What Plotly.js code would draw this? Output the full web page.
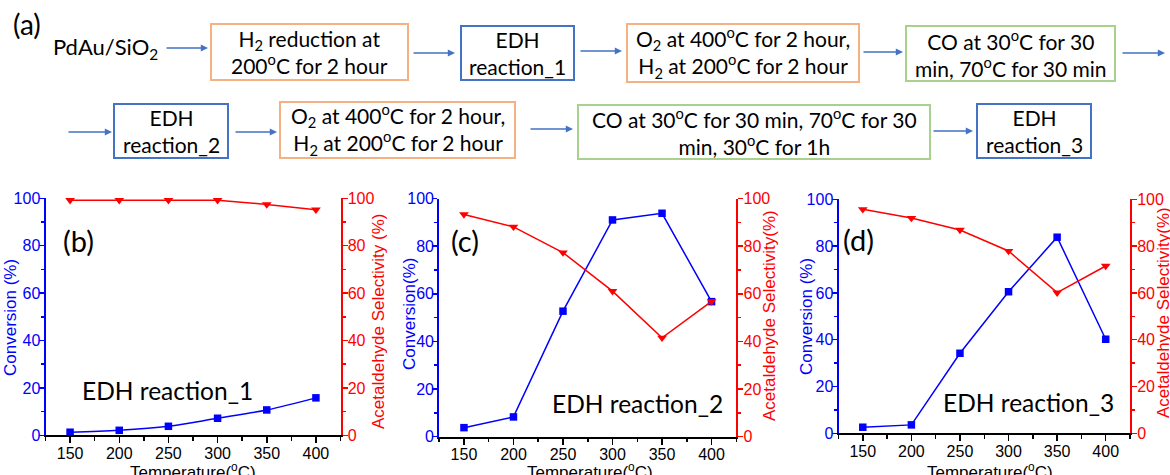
<!DOCTYPE html>
<html>
<head>
<meta charset="utf-8">
<script src="https://cdn.plot.ly/plotly-3.0.1.min.js"></script>
<style>html,body{margin:0;padding:0;background:#fff;}#chart{width:1170px;height:475px;}</style>
</head>
<body>
<div id="chart"></div>
<script>
// ---------------- data ----------------
const temperature = [150, 200, 250, 300, 350, 400];
const conversionB = [1.3, 2.1, 3.8, 7.2, 10.7, 15.8];
const selectivityB = [99.2, 99.2, 99.2, 99.2, 97.4, 95.2];
const conversionC = [3.8, 8.3, 52.7, 91.0, 93.8, 56.7];
const selectivityC = [93.3, 88.1, 77.3, 61.1, 41.5, 56.8];
const conversionD = [2.6, 3.6, 34.2, 60.5, 83.8, 40.2];
const selectivityD = [95.7, 92.0, 86.9, 77.9, 60.1, 71.5];
const panelLabels = ['(b)', '(c)', '(d)'];
const reactionLabels = ['EDH reaction_1', 'EDH reaction_2', 'EDH reaction_3'];
const leftTitles = ['Conversion (%)', 'Conversion(%)', 'Conversion (%)'];
const rightTitles = ['Acetaldehyde Selectivity (%)', 'Acetaldehyde Selectivity(%)', 'Acetaldehyde Selectivity(%)'];
const xTitle = 'Temperature(<sup>o</sup>C)';
const flowSteps = [
  'H<sub>2</sub> reduction at<br>200<sup>o</sup>C for 2 hour',
  'EDH<br>reaction_1',
  'O<sub>2</sub> at 400<sup>o</sup>C for 2 hour,<br>H<sub>2</sub> at 200<sup>o</sup>C for 2 hour',
  'CO at 30<sup>o</sup>C for 30<br>min, 70<sup>o</sup>C for 30 min',
  'EDH<br>reaction_2',
  'O<sub>2</sub> at 400<sup>o</sup>C for 2 hour,<br>H<sub>2</sub> at 200<sup>o</sup>C for 2 hour',
  'CO at 30<sup>o</sup>C for 30 min, 70<sup>o</sup>C for 30<br>min, 30<sup>o</sup>C for 1h',
  'EDH<br>reaction_3'
];
const startLabel = 'PdAu/SiO<sub>2</sub>';

// ---------------- layout helpers ----------------
const W = 1170, H = 475;
const px = x => x / W;
const py = y => 1 - y / H;
const BLUE = '#0000ff', RED = '#ff0000';
const TICKFONT = 'Liberation Sans, Arial, sans-serif';
const FLOWFONT = 'Lato, Noto Sans, sans-serif';
const kindColor = {o: '#f4b183', b: '#4472c4', g: '#a9d18e'};

// box geometry [x0, y0, x1, y1, kind] in pixels
const boxGeom = [
  [211, 24, 408, 80, 'o'],
  [461, 26, 574, 80, 'b'],
  [627, 24, 859, 82, 'o'],
  [906, 26, 1115, 81, 'g'],
  [114, 104, 228, 158, 'b'],
  [280, 102, 515, 158, 'o'],
  [578, 105, 930, 159, 'g'],
  [977, 104, 1091, 158, 'b']
];
// arrows [tailX, headX, y]
const arrowGeom = [
  [165, 208, 48], [412, 455, 53], [579, 622, 51], [862, 903, 52], [1121, 1165, 53],
  [67, 112, 132], [234, 277, 132], [529, 573, 129], [932, 973, 131]
];
// plot panels: domains in pixels [left, right, top, bottom]
const panels = [
  [45.5, 340.5, 198.3, 435.3],
  [439.2, 736.3, 198.5, 436.7],
  [838.5, 1130, 199.3, 433.3]
];
const panelLabelPos = [[78.5, 240], [464.5, 240], [858.5, 239]];
const reactionPos = [[167, 390], [637, 403.5], [1028.5, 402.5]];
const leftTitlePos = [[10, 318], [409, 314], [806, 317]];
const rightTitlePos = [[378, 322], [769, 316], [1163, 313]];
const xTitlePos = [193, 590, 990];

const convSeries = [conversionB, conversionC, conversionD];
const selSeries = [selectivityB, selectivityC, selectivityD];

const traces = [];
const layout = {
  width: W, height: H,
  margin: {l: 0, r: 0, t: 0, b: 0},
  paper_bgcolor: '#fff', plot_bgcolor: 'rgba(0,0,0,0)',
  showlegend: false,
  shapes: [], annotations: []
};

panels.forEach((p, i) => {
  const xn = i === 0 ? '' : String(i + 1);
  const yl = String(2 * i + 1), yr = String(2 * i + 2);
  const yln = yl === '1' ? '' : yl;
  layout['xaxis' + xn] = {
    domain: [px(p[0]), px(p[1])], range: [125, 425], anchor: 'y' + yln,
    tick0: 150, dtick: 50, ticks: 'outside', ticklen: 6, tickwidth: 1.5, tickcolor: '#000',
    minor: {tick0: 125, dtick: 25, ticks: 'outside', ticklen: 3.5, tickwidth: 1.5, tickcolor: '#000'},
    showline: true, linecolor: '#000', linewidth: 2, showgrid: false, zeroline: false,
    ticklabelstandoff: -4,
    tickfont: {family: TICKFONT, size: 16, color: '#000'}, fixedrange: true
  };
  layout['yaxis' + yln] = {
    domain: [py(p[3]), py(p[2])], range: [0, 100], anchor: 'x' + xn,
    tick0: 0, dtick: 20, ticks: 'outside', ticklen: 5, tickwidth: 1.5, tickcolor: BLUE,
    minor: {dtick: 10, ticks: 'outside', ticklen: 3, tickwidth: 1.5, tickcolor: BLUE},
    showline: true, linecolor: BLUE, linewidth: 2, showgrid: false, zeroline: false,
    ticklabelstandoff: -5,
    tickfont: {family: TICKFONT, size: 16, color: BLUE}, fixedrange: true
  };
  layout['yaxis' + yr] = {
    overlaying: 'y' + yln, side: 'right', range: [0, 100], anchor: 'x' + xn,
    tick0: 0, dtick: 20, ticks: 'outside', ticklen: 5, tickwidth: 1.5, tickcolor: RED,
    minor: {dtick: 10, ticks: 'outside', ticklen: 3, tickwidth: 1.5, tickcolor: RED},
    showline: true, linecolor: RED, linewidth: 2, showgrid: false, zeroline: false,
    ticklabelstandoff: -3,
    tickfont: {family: TICKFONT, size: 16, color: RED}, fixedrange: true
  };
  traces.push({
    x: temperature, y: selSeries[i], xaxis: 'x' + xn, yaxis: 'y' + yr,
    type: 'scatter', mode: 'lines+markers', cliponaxis: false,
    line: {color: RED, width: 1.5},
    marker: {symbol: 'triangle-down', size: 8.5, color: RED}
  });
  traces.push({
    x: temperature, y: convSeries[i], xaxis: 'x' + xn, yaxis: 'y' + yln,
    type: 'scatter', mode: 'lines+markers', cliponaxis: false,
    line: {color: BLUE, width: 1.5, shape: i === 0 ? 'spline' : 'linear'},
    marker: {symbol: 'square', size: 7.5, color: BLUE}
  });
  const A = layout.annotations;
  A.push({xref: 'paper', yref: 'paper', x: px(panelLabelPos[i][0]), y: py(panelLabelPos[i][1]),
    xanchor: 'center', yanchor: 'middle', showarrow: false, text: panelLabels[i],
    font: {family: FLOWFONT, size: 29, color: '#000'}});
  A.push({xref: 'paper', yref: 'paper', x: px(reactionPos[i][0]), y: py(reactionPos[i][1]),
    xanchor: 'center', yanchor: 'middle', showarrow: false, text: reactionLabels[i],
    font: {family: FLOWFONT, size: 24.5, color: '#000'}});
  A.push({xref: 'paper', yref: 'paper', x: px(leftTitlePos[i][0]), y: py(leftTitlePos[i][1]),
    xanchor: 'center', yanchor: 'middle', showarrow: false, textangle: -90, text: leftTitles[i],
    font: {family: TICKFONT, size: 17, color: BLUE}});
  A.push({xref: 'paper', yref: 'paper', x: px(rightTitlePos[i][0]), y: py(rightTitlePos[i][1]),
    xanchor: 'center', yanchor: 'middle', showarrow: false, textangle: -90, text: rightTitles[i],
    font: {family: TICKFONT, size: 17, color: RED}});
  A.push({xref: 'paper', yref: 'paper', x: px(xTitlePos[i]), y: py(458),
    xanchor: 'center', yanchor: 'top', showarrow: false, text: xTitle,
    font: {family: TICKFONT, size: 17, color: '#000'}});
});

// flow chart
layout.annotations.push({xref: 'paper', yref: 'paper', x: px(27), y: py(24), xanchor: 'center', yanchor: 'middle',
  showarrow: false, text: '(a)', font: {family: FLOWFONT, size: 28, color: '#000'}});
layout.annotations.push({xref: 'paper', yref: 'paper', x: px(105), y: py(48), xanchor: 'center', yanchor: 'middle',
  showarrow: false, text: startLabel, font: {family: FLOWFONT, size: 22, color: '#000'}});
boxGeom.forEach((b, i) => {
  layout.shapes.push({type: 'rect', xref: 'paper', yref: 'paper',
    x0: px(b[0]), x1: px(b[2]), y0: py(b[3]), y1: py(b[1]),
    line: {color: kindColor[b[4]], width: 2}, fillcolor: 'rgba(0,0,0,0)'});
  layout.annotations.push({xref: 'paper', yref: 'paper', x: px((b[0] + b[2]) / 2), y: py((b[1] + b[3]) / 2),
    xanchor: 'center', yanchor: 'middle', showarrow: false, text: flowSteps[i],
    font: {family: FLOWFONT, size: 21, color: '#000'}});
});
arrowGeom.forEach(a => {
  layout.annotations.push({xref: 'paper', yref: 'paper', x: px(a[1]), y: py(a[2]),
    axref: 'pixel', ayref: 'pixel', ax: -(a[1] - a[0]), ay: 0, text: '', showarrow: true,
    arrowhead: 2, arrowsize: 0.9, arrowwidth: 1.6, arrowcolor: '#4472c4', standoff: 0});
});

Plotly.newPlot('chart', traces, layout, {staticPlot: true, displayModeBar: false});
</script>
</body>
</html>
